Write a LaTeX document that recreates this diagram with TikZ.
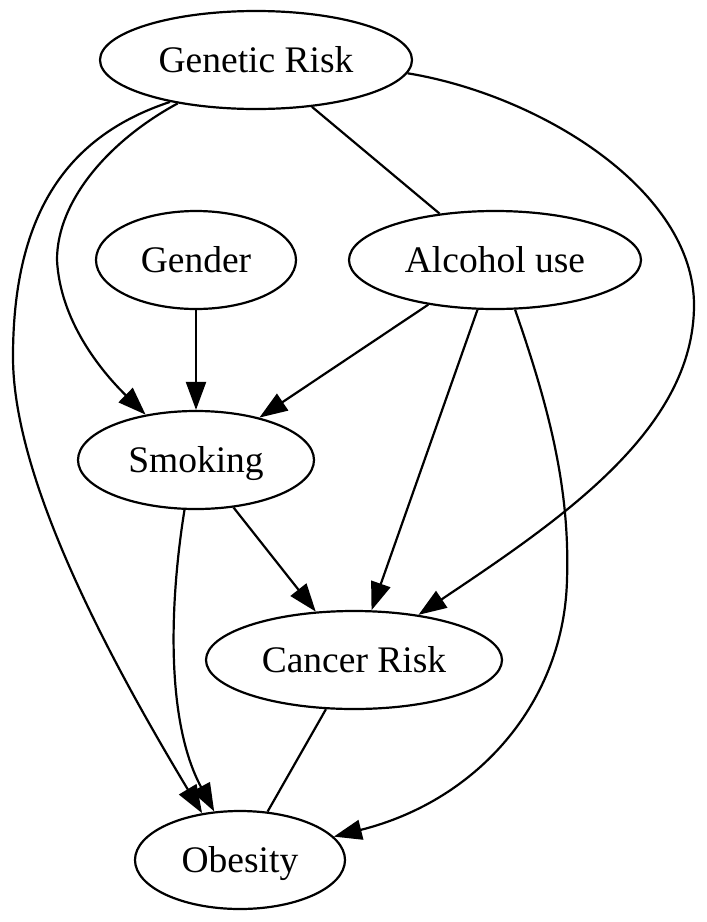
\documentclass[tikz,border=0pt]{standalone}
\usepackage{fontspec}
\setmainfont{Liberation Serif}
\usetikzlibrary{shapes.geometric,arrows.meta}
\begin{document}
\begin{tikzpicture}[x=1pt,y=-1pt,
  nd/.style={ellipse,draw,line width=2.2pt,inner sep=0pt,minimum height=98pt,
    font=\fontsize{37.5}{45}\selectfont,text height=30pt,text depth=6pt},
  ed/.style={line width=2.2pt},
  ar/.style={ed,-{Triangle[length=28pt,width=20pt]}}]
\useasboundingbox (0,0) rectangle (707,922);
\node[nd,minimum width=312pt] (g) at (256,60) {Genetic Risk};
\node[nd,minimum width=200pt] (ge) at (196,260) {Gender};
\node[nd,minimum width=292pt] (a) at (495,260) {Alcohol use};
\node[nd,minimum width=236pt] (s) at (196,460) {Smoking};
\node[nd,minimum width=296pt] (c) at (354,660) {Cancer Risk};
\node[nd,minimum width=210pt] (o) at (240,860) {Obesity};
% undirected
\draw[ed] (g) -- (a);
\draw[ed] (c) -- (o);
% straight arrows
\draw[ar] (ge) -- (s);
\draw[ar] (a) -- (s);
\draw[ar] (a) -- (c);
\draw[ar] (s) -- (c);
% curved arrows
\draw[ar] (g.-151.5) .. controls (110,140) and (57,200) .. (57,260)
  .. controls (60,320) and (100,370) .. (s.138.6);
\draw[ar] (g.-154.7) .. controls (70,135) and (13,210) .. (13,357)
  .. controls (13,480) and (110,660) .. (o.129.8);
\draw[ar] (s.-103) .. controls (170,600) and (165,720) .. (o.118);
\draw[ar] (g.-5.6) .. controls (540,95) and (694,190) .. (694,305)
  .. controls (694,430) and (560,520) .. (c.35.2);
\draw[ar] (a.-68.2) .. controls (550,410) and (570,490) .. (567,580)
  .. controls (564,700) and (480,800) .. (o.14.5);
\end{tikzpicture}
\end{document}
